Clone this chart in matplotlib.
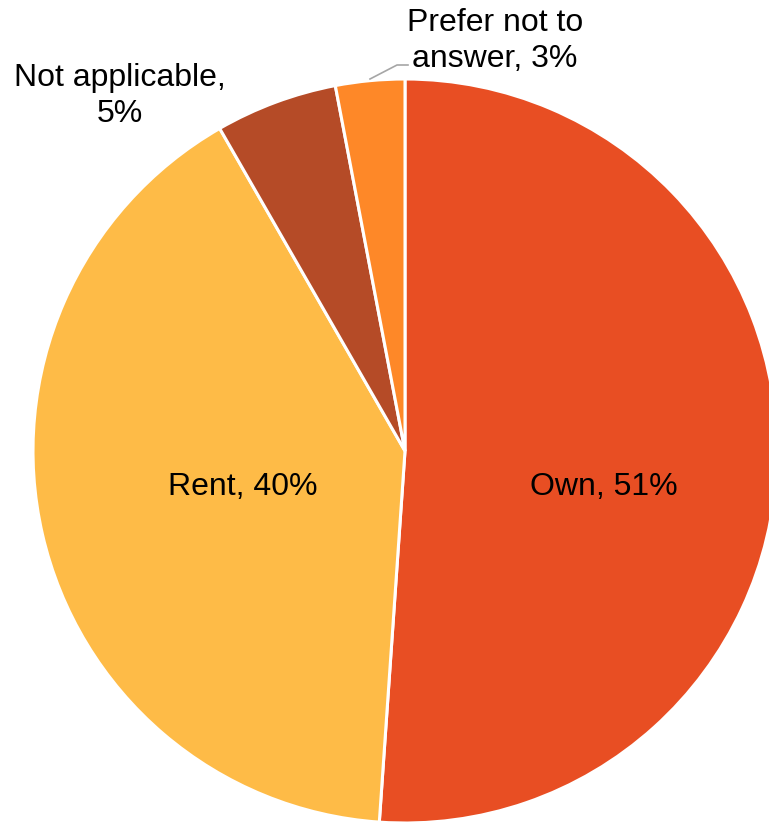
import matplotlib.pyplot as plt

# housing tenure shares (%)
labels = ["Own", "Rent", "Not applicable", "Prefer not to answer"]
shares = [51.1, 40.6, 5.3, 3.0]
display_pct = [51, 40, 5, 3]
colors = ["#E84E23", "#FEBB47", "#B54B27", "#FE8828"]

plt.rcParams['font.family'] = ['Liberation Sans', 'DejaVu Sans']

fig = plt.figure(figsize=(7.69, 8.23), dpi=100)
ax = fig.add_axes([0, 0, 1, 1])
ax.set_xlim(0, 769)
ax.set_ylim(0, 823)
ax.set_aspect('equal')
ax.axis('off')

cx, cy, r = 405, 372, 372
wedges, _ = ax.pie(shares, colors=colors, startangle=90, counterclock=False,
                   center=(cx, cy), radius=r,
                   wedgeprops=dict(edgecolor='white', linewidth=2.2))
ax.set_xlim(0, 769)
ax.set_ylim(0, 823)

fs = 23
ax.text(604, 336, f"{labels[0]}, {display_pct[0]}%", ha='center', va='center', fontsize=fs)
ax.text(243, 336, f"{labels[1]}, {display_pct[1]}%", ha='center', va='center', fontsize=fs)
ax.text(120, 727, f"Not applicable,\n{display_pct[2]}%", ha='center', va='center', fontsize=fs,
        linespacing=1.3)
ax.text(495, 782, f"Prefer not to\nanswer, {display_pct[3]}%", ha='center', va='center', fontsize=fs,
        linespacing=1.3)
ax.plot([370, 397, 408], [823 - 79, 823 - 65, 823 - 65], color='#A6A6A6', lw=1.2)

fig.savefig("out.png", dpi=100)
